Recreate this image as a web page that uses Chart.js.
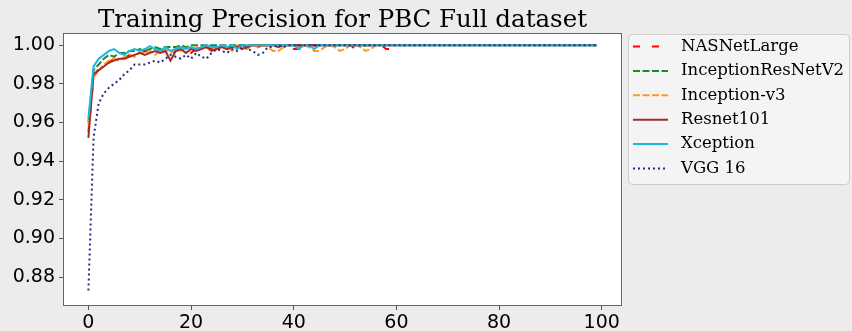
<!DOCTYPE html>
<html>
<head>
<meta charset="utf-8">
<script src="https://cdn.jsdelivr.net/npm/chart.js@4"></script>
<style>
  html, body { margin: 0; padding: 0; background: #ececec; }
  #wrap { width: 852px; height: 331px; }
</style>
</head>
<body>
<div id="wrap"><canvas id="chart" width="852" height="331"></canvas></div>
<script>
// epochs are the index of each value
var seriesNames = ["NASNetLarge", "InceptionResNetV2", "Inception-v3", "Resnet101", "Xception", "VGG 16"];
var seriesColors = ["#ff0000", "#1f8a2a", "#ff9a1f", "#a52a2a", "#17b8e6", "#2b2b80"];
var seriesDashes = [[7, 12], [7, 2.5], [7, 2.5], [], [], [2, 3]];

var nasnetLarge = [
    0.955, 0.983, 0.988, 0.990, 0.991, 0.993, 0.994, 0.993, 0.995, 0.996,
    0.995, 0.997, 0.996, 0.997, 0.998, 0.996, 0.994, 0.997, 0.998, 0.997,
    0.996, 0.998, 0.997, 0.999, 0.998, 0.997, 0.999, 0.998, 1.000, 0.999,
    0.998, 1.000, 1.000, 0.999, 1.000, 1.000, 1.000, 0.999, 1.000, 1.000,
    0.998, 0.998, 1.000, 1.000, 1.000, 0.999, 1.000, 1.000, 1.000, 1.000,
    1.000, 1.000, 0.998, 0.998, 1.000, 1.000, 1.000, 1.000, 0.998, 0.998
];
var inceptionResNetV2 = [
    0.960, 0.987, 0.990, 0.993, 0.995, 0.994, 0.996, 0.996, 0.997, 0.997,
    0.998, 0.997, 0.998, 0.999, 0.998, 0.999, 0.999, 0.999, 1.000, 0.999,
    1.000, 1.000, 1.000, 1.000, 1.000, 1.000, 1.000, 1.000, 1.000, 1.000,
    1.000, 1.000, 1.000, 1.000, 1.000, 1.000, 1.000, 1.000, 1.000, 1.000,
    1.000, 1.000, 1.000, 1.000, 1.000, 1.000, 1.000, 1.000, 1.000, 1.000,
    1.000, 1.000, 1.000, 1.000, 1.000, 1.000, 1.000, 1.000, 1.000, 1.000,
    1.000, 1.000, 1.000, 1.000, 1.000, 1.000, 1.000, 1.000, 1.000, 1.000,
    1.000, 1.000, 1.000, 1.000, 1.000, 1.000, 1.000, 1.000, 1.000, 1.000,
    1.000, 1.000, 1.000, 1.000, 1.000, 1.000, 1.000, 1.000, 1.000, 1.000,
    1.000, 1.000, 1.000, 1.000, 1.000, 1.000, 1.000, 1.000, 1.000, 1.000
];
var inceptionV3 = [
    0.958, 0.984, 0.987, 0.990, 0.992, 0.993, 0.992, 0.994, 0.995, 0.994,
    0.996, 0.996, 0.997, 0.995, 0.997, 0.998, 0.996, 0.998, 0.997, 0.999,
    0.998, 0.999, 0.998, 1.000, 0.999, 0.998, 1.000, 0.999, 0.997, 1.000,
    0.999, 0.998, 1.000, 0.999, 1.000, 0.999, 0.997, 0.997, 0.999, 1.000,
    1.000, 0.999, 1.000, 0.999, 0.997, 0.997, 0.999, 1.000, 0.999, 0.997,
    0.998, 1.000, 1.000, 0.999, 0.997, 0.998, 1.000
];
var resnet101 = [
    0.952, 0.985, 0.987, 0.989, 0.991, 0.992, 0.993, 0.993, 0.994, 0.995,
    0.996, 0.995, 0.996, 0.997, 0.996, 0.997, 0.992, 0.997, 0.998, 0.996,
    0.998, 0.997, 0.998, 0.999, 0.997, 0.998, 0.999, 0.998, 0.999, 0.999,
    1.000, 0.999, 1.000, 1.000, 1.000, 1.000, 1.000, 1.000, 1.000, 1.000,
    1.000, 1.000, 1.000, 1.000, 1.000, 1.000, 1.000, 1.000, 1.000, 1.000,
    1.000, 1.000, 1.000, 1.000, 1.000, 1.000, 1.000, 1.000, 1.000, 1.000,
    1.000, 1.000, 1.000, 1.000, 1.000, 1.000, 1.000, 1.000, 1.000, 1.000,
    1.000, 1.000, 1.000, 1.000, 1.000, 1.000, 1.000, 1.000, 1.000, 1.000,
    1.000, 1.000, 1.000, 1.000, 1.000, 1.000, 1.000, 1.000, 1.000, 1.000,
    1.000, 1.000, 1.000, 1.000, 1.000, 1.000, 1.000, 1.000, 1.000, 1.000
];
var xception = [
    0.962, 0.989, 0.993, 0.995, 0.997, 0.998, 0.996, 0.995, 0.997, 0.998,
    0.997, 0.998, 0.9995, 0.998, 0.997, 0.999, 0.997, 0.998, 0.999, 0.998,
    0.999, 0.998, 0.999, 1.000, 0.999, 0.999, 1.000, 0.999, 1.000, 0.998,
    1.000, 1.000, 1.000, 1.000, 1.000, 1.000, 1.000, 1.000, 1.000, 1.000,
    1.000, 0.998, 1.000, 1.000, 0.998, 1.000, 1.000, 1.000, 1.000, 1.000,
    1.000, 1.000, 1.000, 1.000, 1.000, 1.000, 1.000, 1.000, 1.000, 1.000,
    1.000, 1.000, 1.000, 1.000, 1.000, 1.000, 1.000, 1.000, 1.000, 1.000,
    1.000, 1.000, 1.000, 1.000, 1.000, 1.000, 1.000, 1.000, 1.000, 1.000,
    1.000, 1.000, 1.000, 1.000, 1.000, 1.000, 1.000, 1.000, 1.000, 1.000,
    1.000, 1.000, 1.000, 1.000, 1.000, 1.000, 1.000, 1.000, 1.000, 1.000
];
var vgg16 = [
    0.873, 0.952, 0.970, 0.975, 0.978, 0.980, 0.982, 0.985, 0.987, 0.990,
    0.990, 0.990, 0.991, 0.992, 0.991, 0.993, 0.995, 0.994, 0.993, 0.995,
    0.993, 0.996, 0.994, 0.993, 0.996, 0.998, 0.997, 0.996, 0.998, 0.997,
    0.999, 0.998, 0.997, 0.995, 0.996, 0.999, 0.999, 1.000, 0.999, 1.000,
    1.000, 1.000, 1.000, 1.000, 1.000, 1.000, 1.000, 1.000, 1.000, 1.000,
    1.000, 1.000, 1.000, 1.000, 1.000, 1.000, 1.000, 1.000, 1.000, 1.000,
    1.000, 1.000, 1.000, 1.000, 1.000, 1.000, 1.000, 1.000, 1.000, 1.000,
    1.000, 1.000, 1.000, 1.000, 1.000, 1.000, 1.000, 1.000, 1.000, 1.000,
    1.000, 1.000, 1.000, 1.000, 1.000, 1.000, 1.000, 1.000, 1.000, 1.000,
    1.000, 1.000, 1.000, 1.000, 1.000, 1.000, 1.000, 1.000, 1.000, 1.000
];

var xTicks = [0, 20, 40, 60, 80, 100];
var yTicks = [0.88, 0.90, 0.92, 0.94, 0.96, 0.98, 1.00];
var titleText = "Training Precision for PBC Full dataset";

var allSeries = [nasnetLarge, inceptionResNetV2, inceptionV3, resnet101, xception, vgg16];

var datasets = allSeries.map(function (values, i) {
    return {
        label: seriesNames[i],
        data: values.map(function (v, epoch) { return { x: epoch, y: v }; }),
        borderColor: seriesColors[i],
        borderDash: seriesDashes[i],
        borderWidth: 2,
        pointRadius: 0,
        tension: 0,
        fill: false,
        order: -i // later series on top
    };
});

// white plot area, frame, title and the boxed legend on the right
var framePlugin = {
    id: "frame",
    beforeDraw: function (chart) {
        var ctx = chart.ctx, a = chart.chartArea;
        ctx.save();
        ctx.fillStyle = "#ececec";
        ctx.fillRect(0, 0, chart.width, chart.height);
        ctx.fillStyle = "#ffffff";
        ctx.fillRect(a.left, a.top, a.right - a.left, a.bottom - a.top);
        ctx.restore();
    },
    afterDraw: function (chart) {
        var ctx = chart.ctx, a = chart.chartArea;
        ctx.save();
        ctx.strokeStyle = "#666666";
        ctx.lineWidth = 1;
        ctx.strokeRect(a.left + 0.5, a.top + 0.5, a.right - a.left - 1, a.bottom - a.top - 1);

        ctx.fillStyle = "#000000";
        ctx.font = "24.5px 'DejaVu Serif'";
        ctx.textAlign = "center";
        ctx.textBaseline = "alphabetic";
        ctx.fillText(titleText, (a.left + a.right) / 2, 27);

        // legend box
        var bx = 628.5, by = 34.5, bw = 221, bh = 150, r = 4;
        ctx.beginPath();
        ctx.moveTo(bx + r, by);
        ctx.lineTo(bx + bw - r, by);
        ctx.arcTo(bx + bw, by, bx + bw, by + r, r);
        ctx.lineTo(bx + bw, by + bh - r);
        ctx.arcTo(bx + bw, by + bh, bx + bw - r, by + bh, r);
        ctx.lineTo(bx + r, by + bh);
        ctx.arcTo(bx, by + bh, bx, by + bh - r, r);
        ctx.lineTo(bx, by + r);
        ctx.arcTo(bx, by, bx + r, by, r);
        ctx.closePath();
        ctx.fillStyle = "#f4f4f4";
        ctx.fill();
        ctx.strokeStyle = "#cccccc";
        ctx.stroke();

        ctx.font = "16.5px 'DejaVu Serif'";
        ctx.textAlign = "left";
        ctx.textBaseline = "middle";
        seriesNames.forEach(function (name, i) {
            var y = 46.5 + i * 24.4;
            ctx.beginPath();
            ctx.setLineDash(seriesDashes[i]);
            ctx.strokeStyle = seriesColors[i];
            ctx.lineWidth = 2;
            ctx.moveTo(633, y);
            ctx.lineTo(668, y);
            ctx.stroke();
            ctx.setLineDash([]);
            ctx.fillStyle = "#000000";
            ctx.fillText(name, 681, y);
        });
        ctx.restore();
    }
};

var chartOptions = {
    responsive: false,
    animation: false,
    devicePixelRatio: 1,
    layout: {
        padding: { top: 33, right: 230, left: 0, bottom: 0 }
    },
    plugins: {
        legend: { display: false },
        tooltip: { enabled: false }
    },
    scales: {
        x: {
            type: "linear",
            min: -4.95,
            max: 103.95,
            afterBuildTicks: function (scale) {
                scale.ticks = xTicks.map(function (v) { return { value: v }; });
            },
            afterFit: function (scale) { scale.height = 25; },
            ticks: {
                color: "#000000",
                font: { family: "DejaVu Sans", size: 19 },
                padding: 2,
                maxRotation: 0,
                autoSkip: false
            },
            grid: { drawOnChartArea: false, drawTicks: true, tickLength: 4, color: "#555555" },
            border: { display: false }
        },
        y: {
            min: 0.865,
            max: 1.0063,
            afterBuildTicks: function (scale) {
                scale.ticks = yTicks.map(function (v) { return { value: v }; });
            },
            afterFit: function (scale) { scale.width = 63; },
            ticks: {
                color: "#000000",
                font: { family: "DejaVu Sans", size: 19 },
                padding: 4,
                autoSkip: false,
                callback: function (value) { return value.toFixed(2); }
            },
            grid: { drawOnChartArea: false, drawTicks: true, tickLength: 4, color: "#555555" },
            border: { display: false }
        }
    }
};

var ctx = document.getElementById("chart").getContext("2d");
var myChart = new Chart(ctx, {
    type: "line",
    data: { datasets: datasets },
    options: chartOptions,
    plugins: [framePlugin]
});
</script>
</body>
</html>
